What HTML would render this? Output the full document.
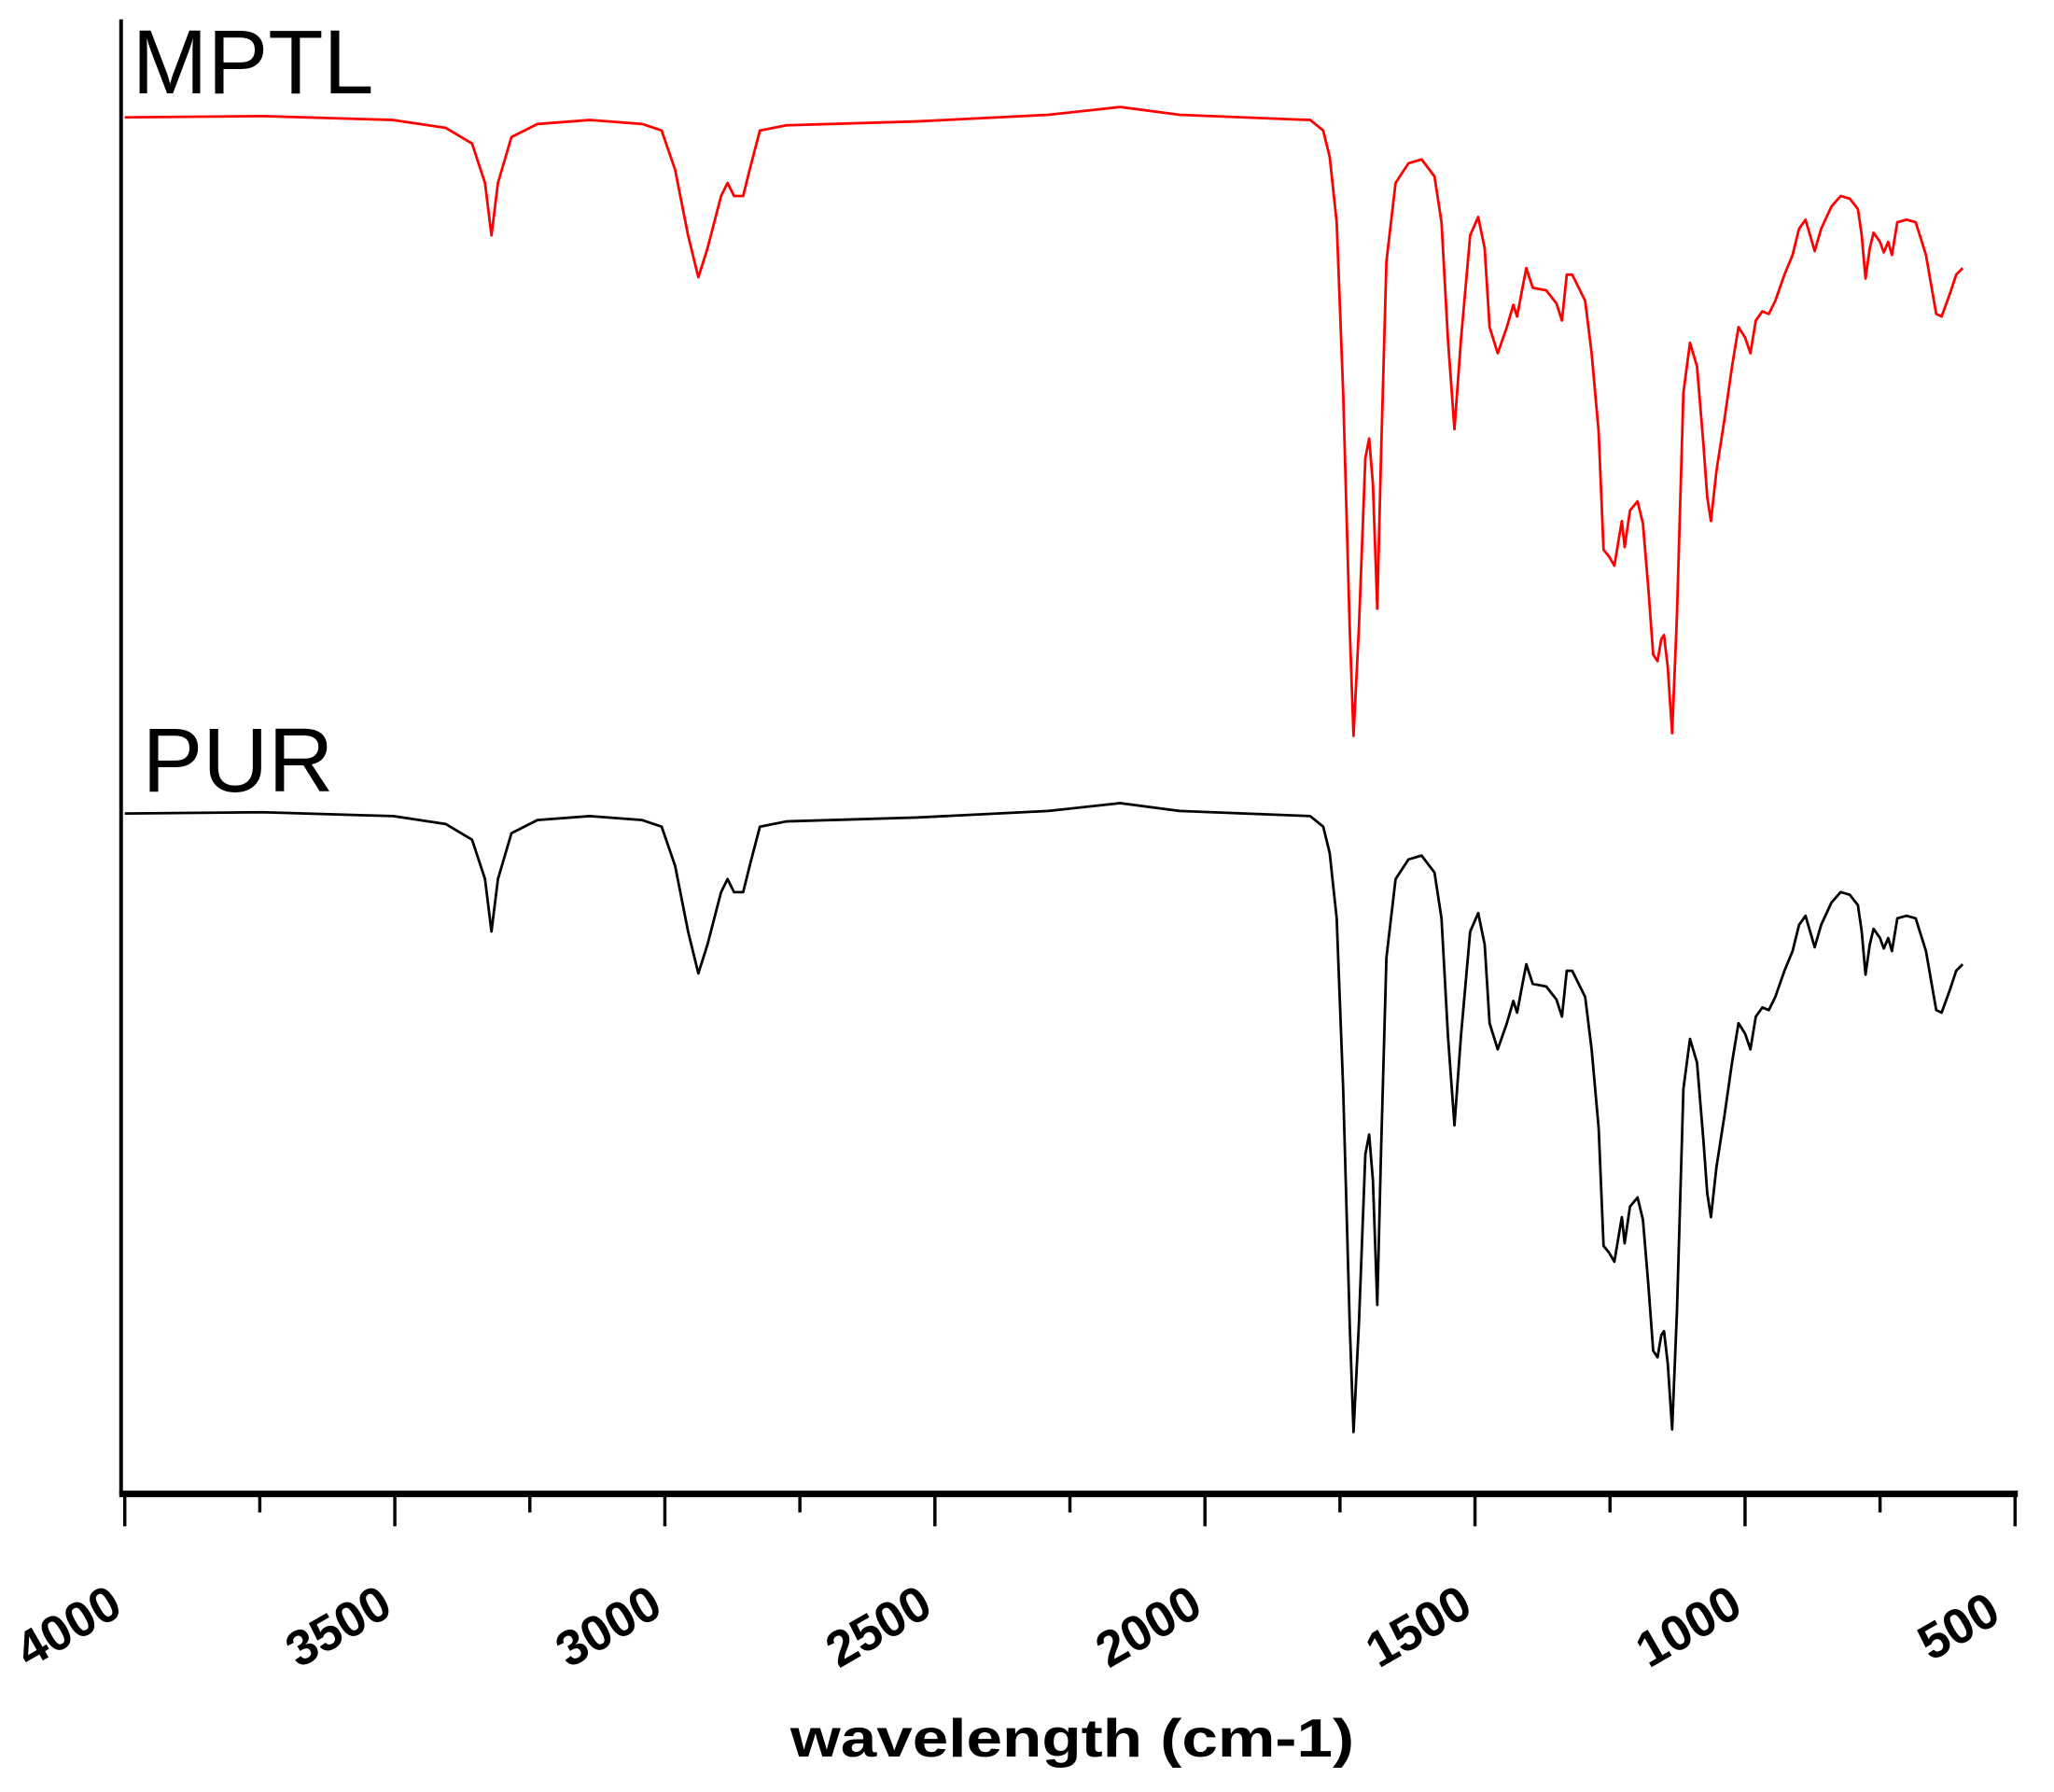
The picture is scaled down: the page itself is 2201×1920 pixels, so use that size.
<!DOCTYPE html>
<html><head><meta charset="utf-8"><style>html,body{margin:0;padding:0;background:#fff}svg{display:block}</style></head>
<body>
<svg id="chart" width="2201" height="1920" viewBox="0 0 2201 1920" xmlns="http://www.w3.org/2000/svg" font-family="Liberation Sans, Arial, sans-serif">
<g transform="scale(0.9905)">
<g id="axes"></g>
<g id="series"></g>
<text x="143" y="101" font-size="98" fill="#000">MPTL</text>
<text x="154" y="856" font-size="98" fill="#000">PUR</text>
<text x="1160" y="1900" font-size="58" font-weight="bold" text-anchor="middle" textLength="610" lengthAdjust="spacingAndGlyphs">wavelength (cm-1)</text>
</g>
</svg>
<script>
const wavenumbers = [4000,3745,3503,3406,3357,3333,3321,3309,3284,3236,3139,3042,3006,2981,2957,2938,2921,2896,2884,2872,2855,2843,2824,2775,2533,2290,2157,2047,1805,1781,1769,1756,1744,1732,1725,1715,1703,1696,1689,1681,1674,1664,1647,1623,1599,1575,1562,1550,1538,1526,1509,1494,1482,1473,1458,1441,1429,1422,1412,1405,1393,1368,1349,1339,1330,1320,1296,1284,1271,1262,1252,1242,1233,1228,1223,1213,1199,1189,1179,1170,1162,1155,1150,1143,1135,1126,1114,1102,1089,1077,1070,1063,1053,1038,1024,1012,1000,990,980,968,956,944,927,912,900,888,871,859,840,823,806,791,784,777,769,762,750,743,735,728,718,701,684,665,646,636,621,609,597];
const mptlValues = [100,100.2,99.6,98.4,96,90,82,90,97,99,99.6,99,98,92,82,75.6,80,88,90,88,88,92,98,98.8,99.4,100.4,101.6,100.4,99.6,98,94,84,58,22,5.6,22,48,51,44,25,48,78,90,93,93.6,91,84,66,52.4,66,82,84.8,80,68,64,68,71.4,69.6,74,77,74,73.6,71.6,69,76,76,72,64,52,34,33,31.6,36,38.4,34.4,40,41.4,38,28,18,17,20.4,21,16,6,24,58,65.6,62,50,42,38.4,46,54,62,68,66.4,64,69,70.4,70,72,76,79,83,84.4,79.6,83,86.4,88,87.6,86,82,75.4,80,82.4,81,79.4,81,79,84,84.4,84,79,70,69.6,73,76,77];
const purValues = mptlValues.slice();
const xTickValues = [4000,3500,3000,2500,2000,1500,1000,500];
const xMinorValues = [3750,3250,2750,2250,1750,1250,750];

const NS = 'http://www.w3.org/2000/svg';
const X0 = 135, X1 = 2180, AXY = 1616;
function xScale(w){ return X0 + (4000 - w) / 3500 * (X1 - X0); }
function yScale(t, base){ return base + (100 - t) * 7.087; }
function mk(tag, attrs, parent){ const e = document.createElementNS(NS, tag); for (const k in attrs) e.setAttribute(k, attrs[k]); parent.appendChild(e); return e; }

const axes = document.getElementById('axes');
const l1 = mk('line', {x1:131, y1:21, x2:131, y2:AXY, stroke:'#000', 'stroke-width':4}, axes);


const l2 = mk('line', {x1:129, y1:AXY, x2:2183, y2:AXY, stroke:'#000', 'stroke-width':7}, axes);


xTickValues.forEach(v => {
  const x = xScale(v);
  const t = mk('line', {x1:x, y1:AXY, x2:x, y2:1651, stroke:'#000', 'stroke-width':3.5}, axes);
  
  
  const lb = mk('text', {x:0, y:0, 'font-size':54, 'font-weight':'bold', 'text-anchor':'middle', transform:`translate(${x-52},${1775}) rotate(-30)`}, axes);
  lb.textContent = v;
  
  
});
xMinorValues.forEach(v => {
  const x = xScale(v);
  const t = mk('line', {x1:x, y1:AXY, x2:x, y2:1636, stroke:'#000', 'stroke-width':3.5}, axes);
  
  
});

const series = document.getElementById('series');
function drawLine(vals, base, color, name){
  const pts = wavenumbers.map((w,i) => xScale(w).toFixed(1) + ',' + yScale(vals[i], base).toFixed(1)).join(' ');
  const p = mk('polyline', {points:pts, fill:'none', stroke:color, 'stroke-width':2.8, 'stroke-linejoin':'round'}, series);
  
  
}
drawLine(mptlValues, 127, '#ff0000', 'mptl-spectrum');
drawLine(purValues, 880, '#000000', 'pur-spectrum');
</script>
</body></html>
